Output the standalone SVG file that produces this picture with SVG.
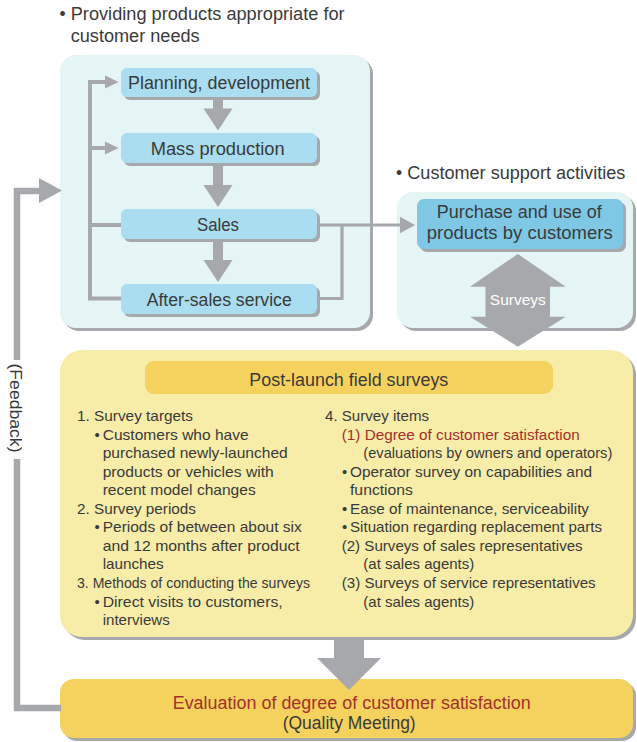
<svg xmlns="http://www.w3.org/2000/svg" width="637" height="742" viewBox="0 0 637 742">
<defs>
<style>
text{font-family:"Liberation Sans",Arial,Helvetica,sans-serif;fill:#3a3a3a}
.h{font-size:17.5px}
.n{font-size:17.5px}
.b{font-size:15px}
.red{fill:#a3302a}
.sh{fill:#a6a8ab}
.panel{fill:#e5f4f4}
.node{fill:#a9ddef}
.cnode{fill:#7fc8e5}
.ypanel{fill:#f7eca8}
.ybox{fill:#f5d25e}
.ln{stroke:#a6a8ab;fill:none}
.ar{fill:#a6a8ab}
</style>
</defs>
<rect width="637" height="742" fill="#ffffff"/>

<!-- headers -->
<g id="header-products">
<text class="h" x="59.5" y="20">•</text>
<text class="h" x="70.7" y="20" textLength="274" lengthAdjust="spacingAndGlyphs">Providing products appropriate for</text>
<text class="h" x="70.7" y="41.7" textLength="129" lengthAdjust="spacingAndGlyphs">customer needs</text>
</g>
<g id="header-support">
<text class="h" x="396" y="179.3">•</text>
<text class="h" x="407.3" y="179.3" textLength="218" lengthAdjust="spacingAndGlyphs">Customer support activities</text>
</g>

<!-- panels -->
<g id="panel-products">
<rect class="sh" x="63" y="58" width="310" height="273" rx="16"/>
<rect class="panel" x="60" y="55" width="310" height="273" rx="16"/>
</g>
<g id="panel-support">
<rect class="sh" x="400" y="195" width="236" height="136" rx="16"/>
<rect class="panel" x="397" y="192" width="236" height="136" rx="16"/>
</g>
<g id="panel-surveys">
<rect class="sh" x="63" y="353" width="573" height="287" rx="22"/>
<rect class="ypanel" x="60" y="350" width="573" height="287" rx="22"/>
</g>

<!-- nodes -->
<g id="node-planning">
<rect class="sh" x="124" y="71" width="196" height="29" rx="6"/>
<rect class="node" x="121" y="68" width="196" height="29" rx="6"/>
<text class="n" x="128" y="89" textLength="182" lengthAdjust="spacingAndGlyphs">Planning, development</text>
</g>
<g id="node-mass">
<rect class="sh" x="124" y="136" width="196" height="30" rx="6"/>
<rect class="node" x="121" y="133" width="196" height="30" rx="6"/>
<text class="n" x="150.7" y="154.5" textLength="134" lengthAdjust="spacingAndGlyphs">Mass production</text>
</g>
<g id="node-sales">
<rect class="sh" x="124" y="212" width="196" height="30" rx="6"/>
<rect class="node" x="121" y="209" width="196" height="30" rx="6"/>
<text class="n" x="197" y="231" textLength="42" lengthAdjust="spacingAndGlyphs">Sales</text>
</g>
<g id="node-aftersales">
<rect class="sh" x="124" y="287" width="196" height="30" rx="6"/>
<rect class="node" x="121" y="284" width="196" height="30" rx="6"/>
<text class="n" x="146.7" y="305.5" textLength="145" lengthAdjust="spacingAndGlyphs">After-sales service</text>
</g>
<g id="node-customers">
<rect class="sh" x="420" y="202" width="206" height="50" rx="7"/>
<rect class="cnode" x="417" y="199" width="206" height="50" rx="7"/>
<text class="n" x="436.7" y="218.3" textLength="165" lengthAdjust="spacingAndGlyphs">Purchase and use of</text>
<text class="n" x="426.7" y="239.3" textLength="186" lengthAdjust="spacingAndGlyphs">products by customers</text>
</g>

<g id="node-field-surveys">
<rect class="ybox" x="145" y="361" width="408" height="33" rx="9"/>
<text class="n" x="249.3" y="385.7" textLength="199" lengthAdjust="spacingAndGlyphs">Post-launch field surveys</text>

<text class="b" x="77" y="421" textLength="116" lengthAdjust="spacingAndGlyphs">1. Survey targets</text>
<text class="b" x="94.5" y="439.55">•</text>
<text class="b" x="102.7" y="439.55" textLength="146" lengthAdjust="spacingAndGlyphs">Customers who have</text>
<text class="b" x="102.7" y="458.1" textLength="185" lengthAdjust="spacingAndGlyphs">purchased newly-launched</text>
<text class="b" x="102.7" y="476.65" textLength="171" lengthAdjust="spacingAndGlyphs">products or vehicles with</text>
<text class="b" x="102.7" y="495.2" textLength="153" lengthAdjust="spacingAndGlyphs">recent model changes</text>
<text class="b" x="77" y="513.75" textLength="119" lengthAdjust="spacingAndGlyphs">2. Survey periods</text>
<text class="b" x="94.5" y="532.3">•</text>
<text class="b" x="102.7" y="532.3" textLength="199" lengthAdjust="spacingAndGlyphs">Periods of between about six</text>
<text class="b" x="102.7" y="550.85" textLength="197" lengthAdjust="spacingAndGlyphs">and 12 months after product</text>
<text class="b" x="102.7" y="569.4" textLength="61" lengthAdjust="spacingAndGlyphs">launches</text>
<text class="b" x="77" y="587.95" textLength="233" lengthAdjust="spacingAndGlyphs">3. Methods of conducting the surveys</text>
<text class="b" x="94.5" y="606.5">•</text>
<text class="b" x="102.7" y="606.5" textLength="180" lengthAdjust="spacingAndGlyphs">Direct visits to customers,</text>
<text class="b" x="102.7" y="625.05" textLength="67" lengthAdjust="spacingAndGlyphs">interviews</text>

<text class="b" x="325" y="421" textLength="104" lengthAdjust="spacingAndGlyphs">4. Survey items</text>
<text class="b red" x="341.7" y="439.55" textLength="238" lengthAdjust="spacingAndGlyphs">(1) Degree of customer satisfaction</text>
<text class="b" x="363.3" y="458.1" textLength="249" lengthAdjust="spacingAndGlyphs">(evaluations by owners and operators)</text>
<text class="b" x="342" y="476.65">•</text>
<text class="b" x="350" y="476.65" textLength="242" lengthAdjust="spacingAndGlyphs">Operator survey on capabilities and</text>
<text class="b" x="350" y="495.2" textLength="63" lengthAdjust="spacingAndGlyphs">functions</text>
<text class="b" x="342" y="513.75">•</text>
<text class="b" x="350" y="513.75" textLength="239" lengthAdjust="spacingAndGlyphs">Ease of maintenance, serviceability</text>
<text class="b" x="342" y="532.3">•</text>
<text class="b" x="350" y="532.3" textLength="252" lengthAdjust="spacingAndGlyphs">Situation regarding replacement parts</text>
<text class="b" x="341.7" y="550.85" textLength="241" lengthAdjust="spacingAndGlyphs">(2) Surveys of sales representatives</text>
<text class="b" x="363.3" y="569.4" textLength="111" lengthAdjust="spacingAndGlyphs">(at sales agents)</text>
<text class="b" x="341.7" y="587.95" textLength="254" lengthAdjust="spacingAndGlyphs">(3) Surveys of service representatives</text>
<text class="b" x="363.3" y="606.5" textLength="111" lengthAdjust="spacingAndGlyphs">(at sales agents)</text>
</g>

<g id="node-evaluation">
<rect class="sh" x="63" y="682" width="573" height="59" rx="14"/>
<rect class="ybox" x="60" y="679" width="573" height="59" rx="14"/>
<text class="n red" x="172.7" y="709.3" textLength="358" lengthAdjust="spacingAndGlyphs">Evaluation of degree of customer satisfaction</text>
<text class="n" x="282.7" y="729.3" textLength="133" lengthAdjust="spacingAndGlyphs">(Quality Meeting)</text>
</g>

<!-- connectors -->
<g id="connectors">
<path class="ln" stroke-width="4" d="M121 225 H90 V298.5 H121 M90 225 V82 H106 M90 148 H106"/>
<polygon class="ar" points="105,75.5 118.5,82 105,88.5"/>
<polygon class="ar" points="105,141.5 118.5,148 105,154.5"/>
<path class="ln" stroke-width="3.2" d="M317 225 H401 M342 225 V298.5 H317"/>
<polygon class="ar" points="400,216.7 415,225 400,233.3"/>
<polygon class="ar" points="213,97 223,97 223,108.5 232.5,108.5 218,130.5 203.5,108.5 213,108.5"/>
<polygon class="ar" points="213,163 223,163 223,185 232.5,185 218,207 203.5,185 213,185"/>
<polygon class="ar" points="213,239 223,239 223,260 232.5,260 218,282 203.5,260 213,260"/>
<polygon class="ar" points="517.8,254 565.7,286.7 550,286.7 550,316.7 565.7,316.7 517.8,346.7 470,316.7 485.5,316.7 485.5,286.7 470,286.7"/>
<text x="517.8" y="305" font-size="15.5" text-anchor="middle" style="fill:#ffffff" textLength="56" lengthAdjust="spacingAndGlyphs">Surveys</text>
<polygon class="ar" points="334,640 364,640 364,658 381,658 349,690 317,658 334,658"/>
<path class="ln" stroke-width="6.5" d="M17 360 V191 H41"/>
<polygon class="ar" points="39,178 62,190.5 39,203"/>
<path class="ln" stroke-width="6.5" d="M17 459 V708 H61"/>
<text transform="translate(9.5,408) rotate(90)" font-size="16" text-anchor="middle" textLength="89" lengthAdjust="spacingAndGlyphs">(Feedback)</text>
</g>
</svg>
